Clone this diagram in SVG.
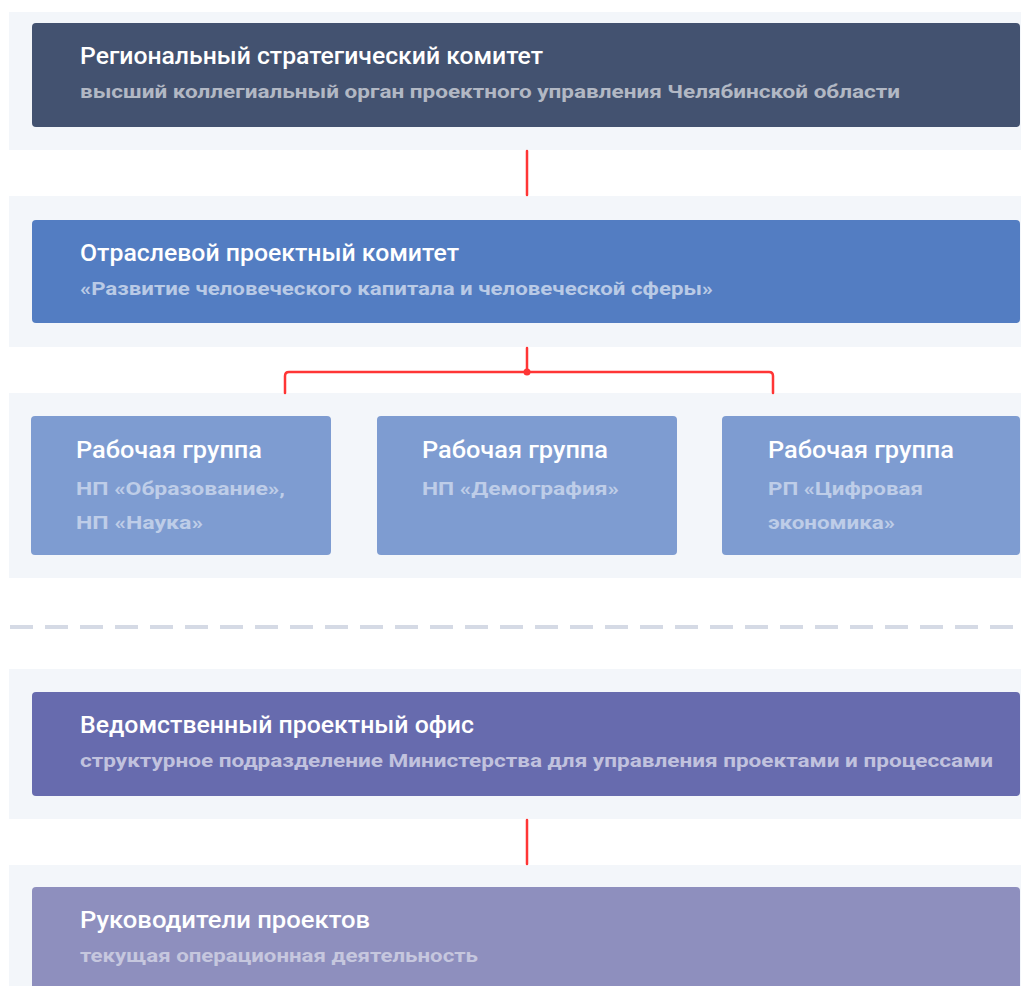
<svg xmlns="http://www.w3.org/2000/svg" width="1021" height="986" viewBox="0 0 1021 986">
<style>
.band{fill:#F3F6FA}
.t{font-family:Roboto,"Liberation Sans",sans-serif;font-weight:500;font-size:23px;fill:#FFFFFF}
.s{font-family:Roboto,"Liberation Sans",sans-serif;font-weight:700;font-size:19px;fill:#FFFFFF;fill-opacity:0.6}
.s3{font-family:Roboto,"Liberation Sans",sans-serif;font-weight:700;font-size:19px;fill:#FFFFFF;fill-opacity:0.5}
.con{stroke:#FF3535;stroke-width:2.5;fill:none;stroke-linecap:round;stroke-linejoin:round}
</style>
<rect width="1021" height="986" fill="#FFFFFF"/>
<g id="bands">
<rect class="band" x="9" y="12" width="1012" height="138"/>
<rect class="band" x="9" y="196" width="1012" height="151"/>
<rect class="band" x="9" y="393" width="1012" height="185"/>
<rect class="band" x="9" y="669" width="1012" height="150"/>
<rect class="band" x="9" y="865" width="1012" height="121"/>
</g>
<line x1="10" y1="627" x2="1021" y2="627" stroke="#D5DAE5" stroke-width="4" stroke-dasharray="23 12"/>
<g id="connectors">
<line class="con" x1="527" y1="151" x2="527" y2="195"/>
<path class="con" d="M527 348 V372 M285 393 V376 Q285 372 289 372 H769 Q773 372 773 376 V393"/>
<circle cx="527" cy="372" r="3.5" fill="#FF3535"/>
<line class="con" x1="527" y1="820" x2="527" y2="864"/>
</g>
<g id="n1">
<rect x="32" y="23" width="988" height="104" rx="4" fill="#435270"/>
<text class="t" x="80" y="64" textLength="463" lengthAdjust="spacingAndGlyphs">Региональный стратегический комитет</text>
<text class="s" x="80" y="98" textLength="820" lengthAdjust="spacingAndGlyphs">высший коллегиальный орган проектного управления Челябинской области</text>
</g>
<g id="n2">
<rect x="32" y="220" width="988" height="103" rx="4" fill="#537DC2"/>
<text class="t" x="80" y="261" textLength="379" lengthAdjust="spacingAndGlyphs">Отраслевой проектный комитет</text>
<text class="s" x="80" y="295" textLength="633" lengthAdjust="spacingAndGlyphs">«Развитие человеческого капитала и человеческой сферы»</text>
</g>
<g id="n3a">
<rect x="31" y="416" width="300" height="139" rx="4" fill="#7E9CD1"/>
<text class="t" x="76" y="458" textLength="186" lengthAdjust="spacingAndGlyphs">Рабочая группа</text>
<text class="s3" x="76" y="495" textLength="209" lengthAdjust="spacingAndGlyphs">НП «Образование»,</text>
<text class="s3" x="76" y="529" textLength="127" lengthAdjust="spacingAndGlyphs">НП «Наука»</text>
</g>
<g id="n3b">
<rect x="377" y="416" width="300" height="139" rx="4" fill="#7E9CD1"/>
<text class="t" x="422" y="458" textLength="186" lengthAdjust="spacingAndGlyphs">Рабочая группа</text>
<text class="s3" x="422" y="495" textLength="197" lengthAdjust="spacingAndGlyphs">НП «Демография»</text>
</g>
<g id="n3c">
<rect x="722" y="416" width="298" height="139" rx="4" fill="#7E9CD1"/>
<text class="t" x="768" y="458" textLength="186" lengthAdjust="spacingAndGlyphs">Рабочая группа</text>
<text class="s3" x="768" y="495" textLength="155" lengthAdjust="spacingAndGlyphs">РП «Цифровая</text>
<text class="s3" x="768" y="529" textLength="127" lengthAdjust="spacingAndGlyphs">экономика»</text>
</g>
<g id="n4">
<rect x="32" y="692" width="988" height="104" rx="4" fill="#676BAE"/>
<text class="t" x="80" y="733" textLength="394" lengthAdjust="spacingAndGlyphs">Ведомственный проектный офис</text>
<text class="s" x="80" y="767" textLength="913" lengthAdjust="spacingAndGlyphs">структурное подразделение Министерства для управления проектами и процессами</text>
</g>
<g id="n5">
<rect x="32" y="887" width="988" height="110" rx="4" fill="#8E8FBE"/>
<text class="t" x="80" y="928" textLength="290" lengthAdjust="spacingAndGlyphs">Руководители проектов</text>
<text class="s3" x="80" y="962" textLength="398" lengthAdjust="spacingAndGlyphs">текущая операционная деятельность</text>
</g>
</svg>
